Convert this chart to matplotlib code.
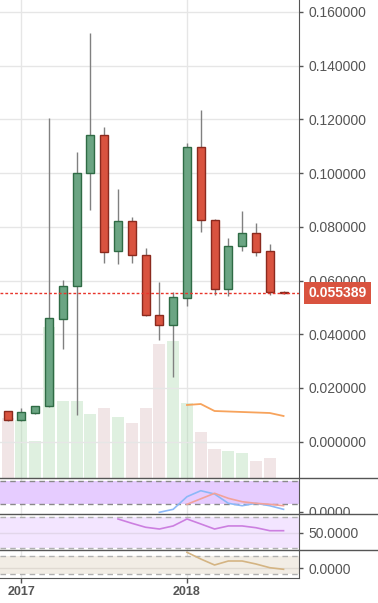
import matplotlib
matplotlib.use("Agg")
import matplotlib.pyplot as plt
from matplotlib.lines import Line2D
from matplotlib.transforms import Bbox, TransformedBbox
from matplotlib.ticker import FormatStrFormatter

plt.rcParams['font.family'] = ['Liberation Sans', 'DejaVu Sans']

# monthly candles
months = ["2016-12", "2017-01", "2017-02", "2017-03", "2017-04", "2017-05", "2017-06",
          "2017-07", "2017-08", "2017-09", "2017-10", "2017-11", "2017-12", "2018-01",
          "2018-02", "2018-03", "2018-04", "2018-05", "2018-06", "2018-07", "2018-08"]
opens = [0.0114, 0.0081, 0.0107, 0.0132, 0.0457, 0.0579, 0.1000, 0.1141, 0.0710, 0.0821, 0.0695,
         0.0471, 0.0434, 0.0534, 0.1097, 0.0825, 0.0568, 0.0728, 0.0777, 0.0710, 0.0557]
highs = [0.0116, 0.0125, 0.0134, 0.1204, 0.0602, 0.1078, 0.1521, 0.1171, 0.0940, 0.0836, 0.0721,
         0.0595, 0.0557, 0.1112, 0.1235, 0.0829, 0.0758, 0.0859, 0.0814, 0.0736, 0.0562]
lows = [0.0078, 0.0078, 0.0105, 0.0130, 0.0345, 0.0099, 0.0863, 0.0665, 0.0661, 0.0665, 0.0468,
        0.0379, 0.0241, 0.0505, 0.0781, 0.0546, 0.0543, 0.0710, 0.0691, 0.0546, 0.0551]
closes = [0.0081, 0.0110, 0.0132, 0.0460, 0.0579, 0.1000, 0.1141, 0.0706, 0.0821, 0.0695, 0.0471,
          0.0434, 0.0538, 0.1097, 0.0825, 0.0568, 0.0728, 0.0777, 0.0706, 0.0557, 0.055389]
volumes = [60, 58, 37, 151, 77, 77, 64, 70, 61, 55, 70, 134, 137, 75, 46, 29, 27, 25, 17, 20, 0]

# volume moving average (from 2018-01)
vol_ma = [73, 74, 67, 66.5, 66, 65.5, 65, 62]
vol_ma_start = 13

# indicator 1 (two lines)
ind1_blue = [-0.00015, 0.00062, 0.00387, 0.00542, 0.00457, 0.00217, 0.00155, 0.00217, 0.00155, 0.00062]
ind1_blue_start = 11
ind1_red = [0.00191, 0.00333, 0.00475, 0.00346, 0.00258, 0.00217, 0.00191, 0.00155]
ind1_red_start = 13
ind1_band = (0.0020, 0.0080)

# RSI
rsi = [67.9, 62.3, 57.1, 54.8, 58.8, 67.9, 61.4, 54.8, 58.8, 58.8, 56.5, 52.6, 52.6]
rsi_start = 8
rsi_band = (30, 70)

# indicator 3
ind3 = [0.00785, 0.0045, 0.0015, 0.0035, 0.0035, 0.0020, 0.00015, -0.00065]
ind3_start = 13
ind3_band = (-0.0030, 0.0060)

year_ticks = ["2017-01", "2018-01"]
year_labels = ["2017", "2018"]

TXT = '#555555'
GRID = '#e6e6e6'
UP, DOWN = '#6ba583', '#d9533f'
UP_EDGE, DOWN_EDGE = '#2f6b45', '#8b2a1e'

x = list(range(len(months)))
up = [c >= o for o, c in zip(opens, closes)]
xt = [months.index(m) for m in year_ticks]

W, H = 378, 603
fig = plt.figure(figsize=(W / 100, H / 100), dpi=100)
aw = 299 / W

ax_vol = fig.add_axes([0, 125 / H, aw, 478 / H])
ax = ax_vol.twinx()
axA = fig.add_axes([0, 89 / H, aw, 36 / H], sharex=ax_vol)
axB = fig.add_axes([0, 53 / H, aw, 36 / H], sharex=ax_vol)
axC = fig.add_axes([0, 25 / H, aw, 28 / H], sharex=ax_vol)

# volume
ax_vol.bar(x, volumes, width=0.88,
           color=['#a5d6a7' if u else '#d7b5b9' for u in up], alpha=0.35, zorder=2)
ax_vol.plot(x[vol_ma_start:], vol_ma, color='#f7a35c', lw=1.3, zorder=3)
ax_vol.set_ylim(0, 478)
ax_vol.set_yticks([])

# candles
for i in x:
    ax.vlines(i, lows[i], highs[i], color='#808080', lw=1, zorder=2)
    lo, hi = min(opens[i], closes[i]), max(opens[i], closes[i])
    ax.bar(i, hi - lo, bottom=lo, width=0.58,
           color=UP if up[i] else DOWN, edgecolor=UP_EDGE if up[i] else DOWN_EDGE,
           lw=1, zorder=3)

last = closes[-1]
ax.axhline(last, color='#e8352b', lw=1, ls=(0, (2, 1.5)), zorder=4)
ax.annotate(f"{last:.6f}", xy=(1, last), xycoords=('axes fraction', 'data'),
            xytext=(6.8, 0), textcoords='offset points', ha='left', va='center',
            color='white', fontsize=10, fontweight='bold', annotation_clip=False, zorder=10,
            bbox=dict(boxstyle='square,pad=0.3', fc=DOWN, ec='none'))

ax.set_ylim(-0.01351, 0.16445)
ax.set_yticks([0.02 * k for k in range(9)])
ax.yaxis.set_major_formatter(FormatStrFormatter('%.6f'))
ax.yaxis.grid(True, color=GRID, lw=1)

ax_vol.set_xlim(-0.551, 21.12)
ax_vol.set_xticks(xt)
ax_vol.xaxis.grid(True, color=GRID, lw=1)
ax_vol.set_axisbelow(True)

# panel A
axA.axhspan(*ind1_band, color='#e6ccff', lw=0)
for lv in ind1_band:
    axA.axhline(lv, color='#8a8a8a', lw=1, ls=(0, (4, 3)))
axA.plot(x[ind1_blue_start:], ind1_blue, color='#8cb8f8', lw=1.2)
axA.plot(x[ind1_red_start:], ind1_red, color='#f2a29a', lw=1.2)
axA.set_ylim(-0.00059, 0.0087)
axA.set_yticks([0.0])
axA.yaxis.set_major_formatter(FormatStrFormatter('%.4f'))

# panel B
axB.axhspan(*rsi_band, color='#f3e5ff', lw=0)
for lv in rsi_band:
    axB.axhline(lv, color='#b0b0b0', lw=1, ls=(0, (4, 3)))
axB.axhline(50, color='#e2d6ea', lw=1)
axB.plot(x[rsi_start:], rsi, color='#cc7fe0', lw=1.2)
axB.set_ylim(27.4, 74.4)
axB.set_yticks([50])
axB.yaxis.set_major_formatter(FormatStrFormatter('%.4f'))

# panel C
axC.axhspan(*ind3_band, color='#f2ede5', lw=0)
for lv in ind3_band:
    axC.axhline(lv, color='#b0b0b0', lw=1, ls=(0, (4, 3)))
axC.axhline(0, color='#e0dad2', lw=1)
axC.plot(x[ind3_start:], ind3, color='#d4b483', lw=1.2)
axC.set_ylim(-0.005, 0.009)
axC.set_yticks([0.0])
axC.yaxis.set_major_formatter(FormatStrFormatter('%.4f'))

for a in (ax_vol, ax, axA, axB, axC):
    for s in a.spines.values():
        s.set_visible(False)
    a.tick_params(axis='x', bottom=False, labelbottom=False)

for a in (ax, axA, axB, axC):
    a.spines['right'].set_visible(True)
    a.spines['right'].set_color(TXT)
    a.yaxis.tick_right()
    a.tick_params(axis='y', right=True, left=False, labelright=True, labelleft=False,
                  length=2.9, width=1, color=TXT, labelcolor=TXT, labelsize=10, pad=3.6)

for a in (axA, axB, axC):
    a.set_xticks(xt)
    a.xaxis.grid(True, color=GRID, lw=1)
    a.set_axisbelow(True)

axC.spines['bottom'].set_visible(True)
axC.spines['bottom'].set_color(TXT)
axC.tick_params(axis='x', bottom=True, labelbottom=True, length=3.6, width=1,
                color=TXT, labelcolor=TXT, labelsize=9, pad=2.5)
axC.set_xticklabels(year_labels, fontweight='bold')

# clip the panel A label to its pane
clipA = TransformedBbox(Bbox([[aw, 89 / H], [1, 125 / H]]), fig.transFigure)
for t in axA.yaxis.get_major_ticks():
    t.label2.set_clip_on(True)
    t.label2.set_clip_box(clipA)

# pane separators
for yy in (478, 514, 550):
    fig.add_artist(Line2D([0, 1], [1 - yy / H] * 2, color=TXT, lw=1))

fig.savefig("out.png", dpi=100)
